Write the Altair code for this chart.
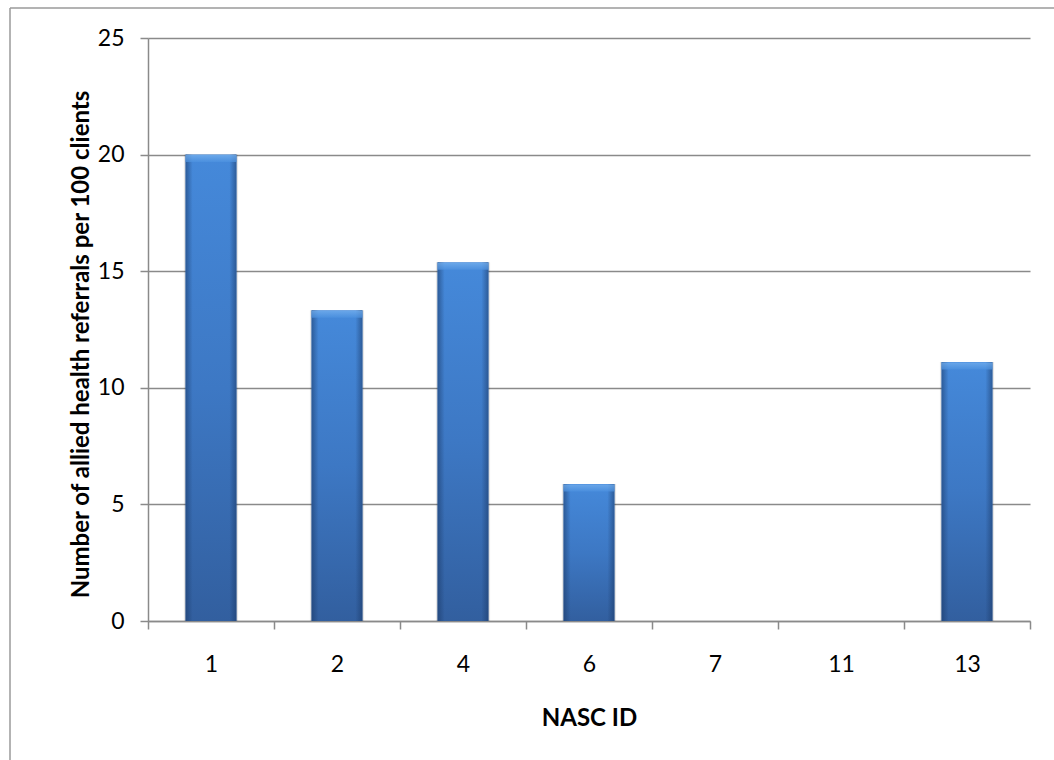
import altair as alt
import pandas as pd

# Allied health referrals per 100 clients, by NASC ID
nasc_ids = ["1", "2", "4", "6", "7", "11", "13"]
referrals = [20.0, 13.33, 15.38, 5.88, 0.0, 0.0, 11.11]

df = pd.DataFrame({"nasc": nasc_ids, "value": referrals})

FONT = "Lato"
GRID = "#8a8a8a"

x_enc = alt.X(
    "nasc:N",
    sort=nasc_ids,
    scale=alt.Scale(type="band", paddingInner=0, paddingOuter=0),
    axis=alt.Axis(
        title="NASC ID",
        labelAngle=0,
        tickBand="extent",
        tickSize=8,
        tickColor=GRID,
        tickWidth=1.5,
        domainColor=GRID,
        domainWidth=1.5,
        labelPadding=24,
        labelFontSize=23,
        labelColor="#000000",
        labelFont=FONT,
        titleFont=FONT,
        titleFontSize=24,
        titleFontWeight="bold",
        titleColor="#000000",
        titlePadding=30,
        grid=False,
    ),
)

y_enc = alt.Y(
    "value:Q",
    scale=alt.Scale(domain=[0, 25], nice=False),
    axis=alt.Axis(
        title="Number of allied health referrals per 100 clients",
        values=[0, 5, 10, 15, 20, 25],
        tickSize=8,
        tickColor=GRID,
        tickWidth=1.5,
        domainColor=GRID,
        domainWidth=1.5,
        gridColor=GRID,
        gridWidth=1.5,
        labelPadding=16,
        labelFontSize=23,
        labelColor="#000000",
        labelFont=FONT,
        titleFont=FONT,
        titleFontSize=24,
        titleFontWeight="bold",
        titleColor="#000000",
        titlePadding=4,
        titleY=306,
    ),
)

base = alt.Chart(df)
nonzero = base.transform_filter("datum.value > 0")

shadow = nonzero.mark_bar(
    width=alt.RelativeBandSize(0.43),
    color="#000000",
    opacity=0.10,
    y2Offset=5,
).encode(x=x_enc, y=y_enc)

body = base.mark_bar(
    width=alt.RelativeBandSize(0.405),
    color=alt.Gradient(
        gradient="linear",
        x1=0, x2=0, y1=0, y2=1,
        stops=[
            alt.GradientStop(color="#4589da", offset=0),
            alt.GradientStop(color="#3d78c4", offset=0.5),
            alt.GradientStop(color="#325f9f", offset=1),
        ],
    ),
).encode(x=x_enc, y=y_enc)

edges = nonzero.mark_bar(
    width=alt.RelativeBandSize(0.405),
    color=alt.Gradient(
        gradient="linear",
        x1=0, x2=1, y1=0, y2=0,
        stops=[
            alt.GradientStop(color="rgba(25,55,100,0.55)", offset=0),
            alt.GradientStop(color="rgba(25,55,100,0.0)", offset=0.14),
            alt.GradientStop(color="rgba(25,55,100,0.0)", offset=0.86),
            alt.GradientStop(color="rgba(25,55,100,0.55)", offset=1),
        ],
    ),
).encode(x=x_enc, y=y_enc)

bevel = nonzero.mark_tick(
    orient="horizontal",
    size=51,
    thickness=7,
    yOffset=4,
    color=alt.Gradient(
        gradient="linear",
        x1=0, x2=0, y1=0, y2=1,
        stops=[
            alt.GradientStop(color="#7ab4f0", offset=0),
            alt.GradientStop(color="#4d92e0", offset=1),
        ],
    ),
).encode(x=x_enc, y=y_enc)

frame_src = alt.Data(values=[{"k": 0}])
frame_top = alt.Chart(frame_src).mark_rule(color="#9a9a9a", strokeWidth=1.5).encode(
    x=alt.value(-138), x2=alt.value(1100), y=alt.value(-30)
)
frame_left = alt.Chart(frame_src).mark_rule(color="#9a9a9a", strokeWidth=1.5).encode(
    x=alt.value(-138), y=alt.value(-30), y2=alt.value(800)
)

chart = (
    alt.layer(shadow, body, edges, bevel, frame_top, frame_left)
    .properties(
        width=882,
        height=583,
        autosize=alt.AutoSizeParams(type="none"),
        padding={"left": 148, "top": 38, "right": 24, "bottom": 139},
        background="#ffffff",
    )
    .configure_view(stroke=None)
)

chart.save("out.html", embed_options={"renderer": "svg", "actions": False})
